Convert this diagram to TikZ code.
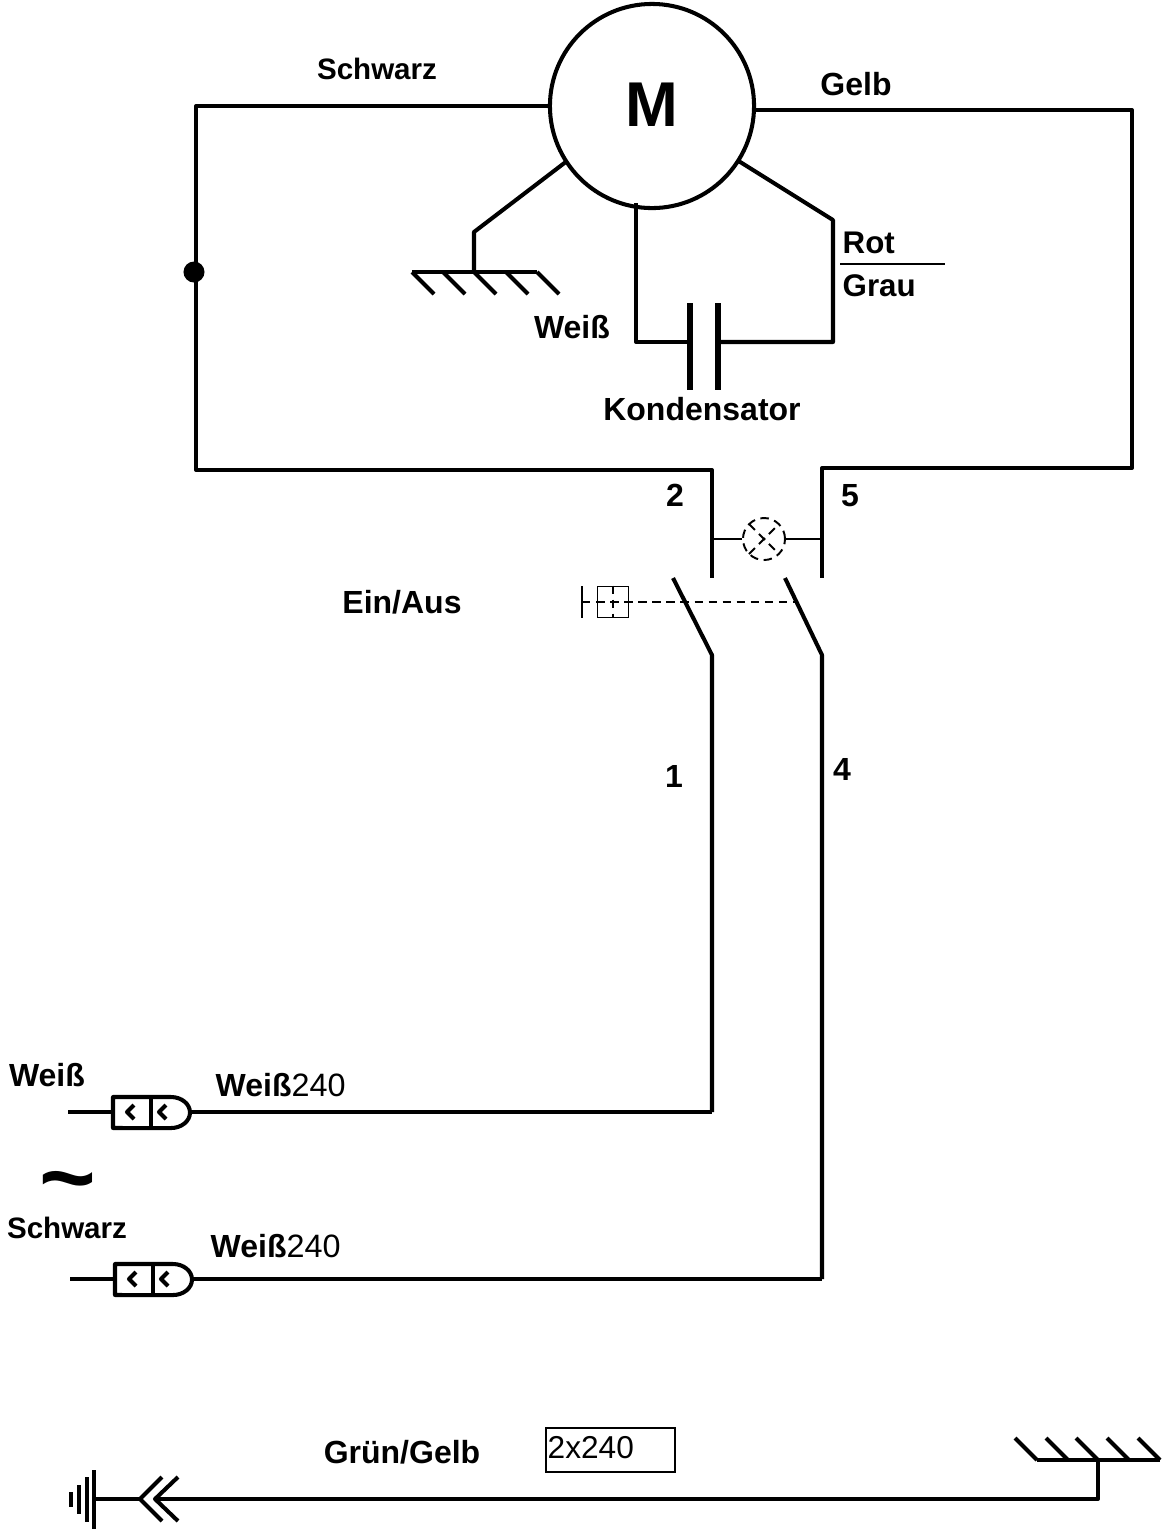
\documentclass[tikz,border=0pt]{standalone}
\usepackage{fontspec}
\setmainfont{Liberation Sans}
\usepackage{tikz}
\tikzset{
  wire/.style={line width=1.15pt, line join=round},
  thinwire/.style={line width=0.55pt},
  dashwire/.style={line width=0.55pt, dash pattern=on 2.4pt off 1.6pt},
  lbl/.style={font=\bfseries\fontsize{9.1}{11}\selectfont, inner sep=0pt},
  lblsmall/.style={font=\bfseries\fontsize{8.4}{10}\selectfont, inner sep=0pt},
  lblwire/.style={font=\bfseries\fontsize{8.9}{11}\selectfont, inner sep=0pt},
}
\newcommand{\regnum}{\mdseries\fontsize{9.2}{11}\selectfont 240}
\begin{document}
\begin{tikzpicture}[x=0.01cm,y=-0.01cm]
\useasboundingbox (0,0) rectangle (1164,1529);

% Motor
\node[draw, wire, circle, minimum size=2.04cm, inner sep=0pt, font=\bfseries\fontsize{18}{20}\selectfont] (motor) at (652,106) {\raisebox{0.03cm}{M}};
\coordinate (mleft) at (550,106);
\coordinate (mright) at (754,110);
\coordinate (mearth) at (567,161);
\coordinate (mcap) at (636,203);
\coordinate (mrot) at (737,160);

% Outer wires
\coordinate (topl) at (196,106);
\coordinate (botl) at (196,470);
\coordinate (cona) at (712,470);
\coordinate (conb) at (712,578);
\coordinate (topr) at (1132,110);
\coordinate (botr) at (1132,468);
\coordinate (cond) at (822,468);
\coordinate (cone) at (822,578);
\draw[wire] (mleft) -- (topl) -- (botl) -- (cona) -- (conb);
\draw[wire] (mright) -- (topr) -- (botr) -- (cond) -- (cone);
\node[circle, fill=black, minimum size=0.21cm, inner sep=0pt] (dot) at (194,272) {};

% Earth at motor
\coordinate (ekink) at (474,232);
\coordinate (ejoin) at (474,272);
\coordinate (ehatchl) at (412,272);
\coordinate (ehatchr) at (537,272);
\draw[wire] (mearth) -- (ekink) -- (ejoin);
\draw[wire] (ehatchl) -- (ehatchr);
\foreach \x in {412,443,474,506,537} {
    \draw[wire] (\x,272) -- (\x+22,294);
}

% Capacitor
\coordinate (capl) at (690,342);
\coordinate (capr) at (718,342);
\coordinate (capb) at (636,342);
\coordinate (capc) at (833,342);
\coordinate (capd) at (833,220);
\draw[wire] (mcap) -- (capb) -- (capl);
\draw[wire] (capr) -- (capc) -- (capd) -- (mrot);
\draw[line width=1.5pt] (690,303) -- (690,390);
\draw[line width=1.5pt] (718,303) -- (718,390);
\draw[thinwire] (840,264) -- (945,264);

% Lamp
\node[draw, dashwire, circle, minimum size=0.42cm, inner sep=0pt] (lamp) at (764,539) {};
\coordinate (lampl) at (712,539);
\coordinate (lampr) at (822,539);
\draw[thinwire] (lampl) -- (lamp.west);
\draw[thinwire] (lamp.east) -- (lampr);
\draw[dashwire] (749,524) -- (779,554);
\draw[dashwire] (749,554) -- (779,524);

% Switch
\coordinate (swa) at (673,578);
\coordinate (swb) at (712,655);
\coordinate (swc) at (785,578);
\coordinate (swd) at (822,655);
\coordinate (enda) at (712,1112);
\coordinate (endb) at (822,1279);
\draw[wire] (swa) -- (swb) -- (enda);
\draw[wire] (swc) -- (swd) -- (endb);
\node[draw, thinwire, minimum size=0.31cm, inner sep=0pt] (button) at (613,602) {};
\coordinate (swlink) at (795,602);
\coordinate (barmid) at (582,602);
\draw[dashwire] (barmid) -- (swlink);
\draw[dashwire] (button.north) -- (button.south);
\draw[thinwire] (582,586) -- (582,618);

% Plugs
\foreach \dx/\dy/\name/\tip in {0/0/a/enda, 2/167/b/endb} {
    \coordinate (in\name) at (68+\dx,1112+\dy);
    \coordinate (pl\name) at (113+\dx,1112+\dy);
    \coordinate (pr\name) at (190+\dx,1112+\dy);
    \draw[wire] (in\name) -- (pl\name);
    \draw[wire] (pr\name) -- (\tip);
    \draw[wire] (113+\dx,1097+\dy) -- (171+\dx,1097+\dy) arc[start angle=90, end angle=-90, x radius=0.19cm, y radius=0.155cm] -- (113+\dx,1128+\dy) -- cycle;
    \draw[wire] (151+\dx,1097+\dy) -- (151+\dx,1128+\dy);
    \draw[wire] (134+\dx,1105+\dy) -- (127+\dx,1112+\dy) -- (134+\dx,1119+\dy);
    \draw[wire] (166+\dx,1105+\dy) -- (159+\dx,1112+\dy) -- (166+\dx,1119+\dy);
}

% Protective earth
\coordinate (peb) at (94,1499);
\coordinate (pea) at (140,1499);
\coordinate (pec) at (155,1499);
\coordinate (ped) at (1098,1499);
\coordinate (pee) at (1098,1460);
\draw[wire] (peb) -- (pea);
\draw[wire] (pec) -- (ped) -- (pee);
\draw[wire] (162,1477) -- (pea) -- (162,1521);
\draw[wire] (178,1477) -- (pec) -- (178,1521);
\draw[line width=1.1pt] (94,1470) -- (94,1529);
\draw[line width=1.1pt] (87,1477) -- (87,1522);
\draw[line width=1.1pt] (79,1485) -- (79,1514);
\draw[line width=1.1pt] (71,1492) -- (71,1507);
\draw[wire] (1037,1460) -- (1160,1460);
\foreach \x in {1037,1068,1098,1129,1160} {
    \draw[wire] (\x,1460) -- (\x-22,1438);
}

% Labels
\node[lblsmall] (schwarza) at (377,69) {Schwarz};
\node[lbl] (gelb) at (856,84) {Gelb};
\node[lblwire, anchor=west] (rot) at (842,243) {Rot};
\node[lblwire, anchor=west] (grau) at (842,286) {Grau};
\node[lbl] (weissa) at (572,327) {Weiß};
\node[lbl] (kond) at (702,409) {Kondensator};
\node[lbl] (two) at (675,495) {2};
\node[lbl] (five) at (850,496) {5};
\node[lbl] (einaus) at (402,602) {Ein/Aus};
\node[lbl] (one) at (674,776) {1};
\node[lbl] (four) at (842,769) {4};
\node[lbl] (weissb) at (47,1075) {Weiß};
\node[lbl, anchor=west] (weissc) at (215,1085) {Weiß\regnum};
\node[font=\bfseries\fontsize{24}{26}\selectfont, inner sep=0pt, xscale=1.15, yscale=1.1] (tilde) at (68,1190) {\char"7E};
\node[lblsmall] (schwarzb) at (67,1228) {Schwarz};
\node[lbl, anchor=west] (weissd) at (210,1246) {Weiß\regnum};
\node[lbl] (gruen) at (402,1452) {Grün/Gelb};
\node[draw, thinwire, minimum width=1.29cm, minimum height=0.44cm, inner sep=0pt] (box) at (610.5,1450) {};
\node[font=\fontsize{9}{10}\selectfont, inner sep=0pt, anchor=west] (boxtext) at (547,1448) {2x240};
\end{tikzpicture}
\end{document}
